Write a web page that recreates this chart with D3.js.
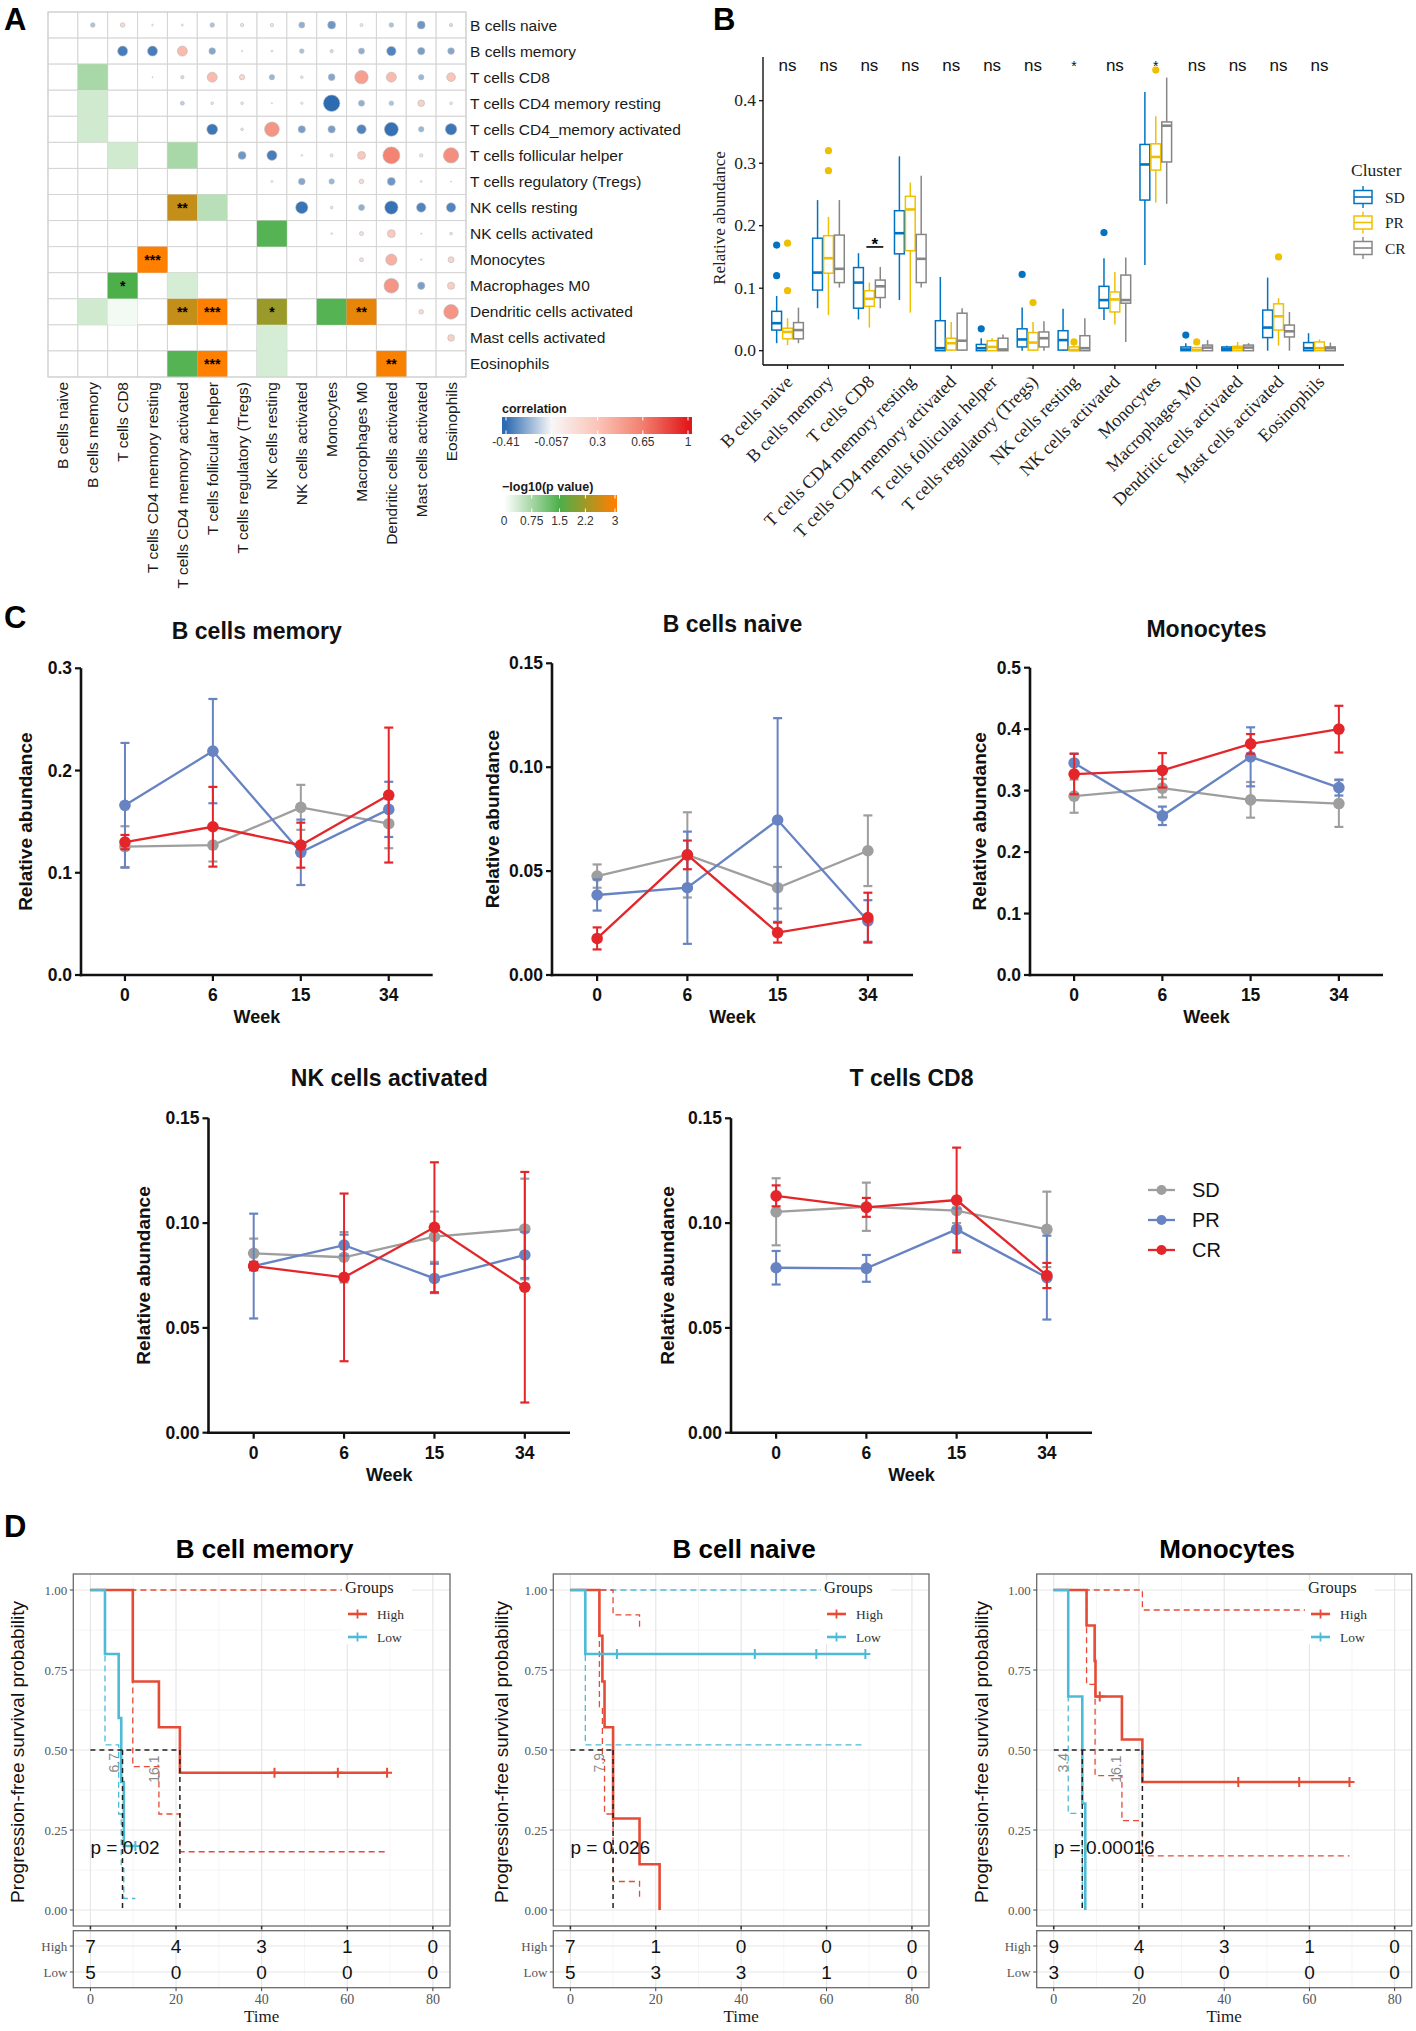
<!DOCTYPE html>
<html><head><meta charset="utf-8">
<script src="https://cdn.jsdelivr.net/npm/d3@7"></script>
<style>
body{margin:0;background:#fff}
svg{display:block;font-family:"Liberation Sans",Arial,sans-serif}
</style>
</head><body>
<svg id="fig" width="1416" height="2031"></svg>
<script>
// ===================== DATA =====================
const rowLabels = ["B cells naive","B cells memory","T cells CD8","T cells CD4 memory resting","T cells CD4_memory activated","T cells follicular helper","T cells regulatory (Tregs)","NK cells resting","NK cells activated","Monocytes","Macrophages M0","Dendritic cells activated","Mast cells activated","Eosinophils"];
const colLabels = ["B cells naive","B cells memory","T cells CD8","T cells CD4 memory resting","T cells CD4 memory activated","T cells follicular helper","T cells regulatory (Tregs)","NK cells resting","NK cells activated","Monocytes","Macrophages M0","Dendritic cells activated","Mast cells activated","Eosinophils"];

// Panel A: upper triangle correlations (row i, columns i+1..13)
const corrUpper = [
  [-0.19,0.14,-0.035,-0.05,-0.19,0.09,0.09,-0.24,-0.30,0.08,-0.19,-0.30,-0.12],
  [-0.367,-0.367,0.35,-0.26,-0.018,-0.05,-0.19,-0.12,-0.24,-0.346,-0.28,-0.26],
  [-0.005,-0.12,0.35,0.17,-0.22,0.065,-0.26,0.485,0.35,-0.22,0.30],
  [-0.16,-0.09,-0.09,-0.005,-0.07,-0.41,-0.24,-0.19,0.22,-0.09],
  [-0.382,-0.09,0.54,-0.28,-0.28,-0.346,-0.397,-0.22,-0.385],
  [-0.30,-0.367,-0.035,0.08,0.27,0.63,0.09,0.57],
  [-0.05,-0.26,-0.22,0.14,-0.30,-0.05,-0.005],
  [-0.389,-0.09,-0.24,-0.394,-0.346,-0.346],
  [-0.035,0.117,0.27,-0.018,-0.09],
  [0.117,0.40,-0.018,0.195],
  [0.54,-0.28,0.24],
  [0.14,0.54],
  [0.22],
  []
];
// Panel A: lower triangle -log10(p) [row, col, value]
const logPLower = [[2,1,0.73],[3,1,0.4],[4,1,0.4],[5,2,0.4],[5,4,0.73],[7,4,2.5],[7,5,0.6],[8,7,1.42],[9,3,3.0],[10,2,1.5],[10,4,0.35],[11,1,0.4],[11,2,0.1],[11,4,2.5],[11,5,3.0],[11,7,2.15],[11,9,1.42],[11,10,2.8],[12,7,0.35],[13,4,1.42],[13,5,3.0],[13,7,0.35],[13,11,2.95]];
const pStars = [[7,4,"**"],[9,3,"***"],[10,2,"*"],[11,4,"**"],[11,5,"***"],[11,7,"*"],[11,10,"**"],[13,5,"***"],[13,11,"**"]];
const corrTicks = [-0.41,-0.057,0.3,0.65,1];
const corrTickLabels = ["-0.41","-0.057","0.3","0.65","1"];
const pTicks = [0,0.75,1.5,2.2,3];
const pTickLabels = ["0","0.75","1.5","2.2","3"];

// Panel B: box stats [lower whisker, Q1, median, Q3, upper whisker]
const clusters = ["SD","PR","CR"];
const boxSD = [[0.012,0.033,0.044,0.063,0.0875],[0.068,0.097,0.125,0.18,0.241],[0.05,0.068,0.109,0.133,0.156],[0.081,0.155,0.188,0.224,0.311],[0,0,0.004,0.048,0.118],[0,0,0.004,0.01,0.02],[0,0.006,0.018,0.035,0.069],[0,0.001,0.017,0.032,0.067],[0.049,0.068,0.081,0.103,0.148],[0.137,0.241,0.298,0.33,0.414],[0,0,0.002,0.006,0.012],[0,0,0.003,0.006,0.008],[0,0.021,0.037,0.065,0.117],[0,0,0.004,0.013,0.028]];
const boxPR = [[0.009,0.019,0.03,0.036,0.052],[0.057,0.124,0.148,0.184,0.214],[0.037,0.071,0.083,0.096,0.109],[0.061,0.16,0.226,0.247,0.269],[0,0.001,0.012,0.02,0.046],[0,0,0.006,0.016,0.02],[0,0.001,0.013,0.029,0.046],[0,0,0.001,0.006,0.009],[0.042,0.062,0.082,0.094,0.126],[0.237,0.289,0.31,0.331,0.375],[0,0,0.001,0.005,0.006],[0,0,0.004,0.007,0.014],[0.008,0.033,0.055,0.075,0.084],[0,0,0.004,0.014,0.018]];
const boxCR = [[0.012,0.019,0.033,0.045,0.069],[0.101,0.109,0.131,0.185,0.241],[0.068,0.085,0.103,0.113,0.134],[0.101,0.109,0.147,0.186,0.28],[0,0.001,0.016,0.06,0.068],[0,0,0.002,0.02,0.026],[0,0.006,0.02,0.03,0.047],[0,0,0.004,0.024,0.052],[0.014,0.076,0.081,0.121,0.149],[0.235,0.302,0.36,0.366,0.437],[0,0,0.005,0.009,0.017],[0,0,0.005,0.009,0.012],[0,0.022,0.031,0.041,0.062],[0,0,0.004,0.006,0.013]];
const outSD = [[0,0.169],[0,0.12],[5,0.035],[6,0.122],[8,0.189],[10,0.025]];
const outPR = [[0,0.172],[0,0.096],[1,0.32],[1,0.288],[6,0.077],[7,0.014],[9,0.449],[10,0.014],[12,0.15]];
const outCR = [];
const bSig = ["ns","ns","ns","ns","ns","ns","ns","*","ns","*","ns","ns","ns","ns"];
const bTicks = [0,0.1,0.2,0.3,0.4];

// Panel C: means and error (order SD, PR, CR)
const weeks = ["0","6","15","34"];
const groupsC = ["SD","PR","CR"];
const bMemMean = [[0.1255,0.127,0.164,0.148],[0.166,0.219,0.12,0.162],[0.130,0.145,0.127,0.176]];
const bMemErr  = [[0.02,0.016,0.022,0.024],[0.061,0.051,0.032,0.027],[0.007,0.039,0.022,0.066]];
const bNaiveMean = [[0.0476,0.0578,0.042,0.0598],[0.0385,0.042,0.0746,0.026],[0.0176,0.0578,0.0204,0.0276]];
const bNaiveErr  = [[0.0056,0.0205,0.01,0.017],[0.0075,0.027,0.049,0.01],[0.0053,0.0069,0.0048,0.012]];
const monoMean = [[0.291,0.304,0.285,0.279],[0.345,0.259,0.355,0.305],[0.327,0.333,0.376,0.4]];
const monoErr  = [[0.027,0.015,0.029,0.038],[0.015,0.015,0.048,0.013],[0.033,0.028,0.016,0.038]];
const nkActMean = [[0.0856,0.0837,0.0935,0.0972],[0.0795,0.0895,0.0736,0.0848],[0.0795,0.0741,0.098,0.0694]];
const nkActErr  = [[0.007,0.012,0.012,0.024],[0.025,0.005,0.007,0.011],[0.002,0.04,0.031,0.055]];
const tcd8Mean = [[0.1054,0.1078,0.106,0.097],[0.0787,0.0784,0.097,0.074],[0.113,0.1075,0.111,0.075]];
const tcd8Err  = [[0.016,0.0115,0.006,0.018],[0.008,0.0064,0.01,0.02],[0.005,0.0045,0.025,0.006]];
const ticks03 = [0,0.1,0.2,0.3];
const ticks015 = [0,0.05,0.10,0.15];
const ticks05 = [0,0.1,0.2,0.3,0.4,0.5];

// Panel D: Kaplan-Meier step points [time, survival]
const kmTicks = [0,20,40,60,80];
const memHigh = [[0,1],[9.9,0.714],[16,0.571],[20.9,0.429],[69.3,0.429]];
const memHighUp = [[0,1],[69.3,1]];
const memHighLo = [[0,1],[9.9,0.448],[16,0.30],[20.9,0.182],[69.3,0.182]];
const memHighCens = [43,57.8,69.3];
const memLow = [[0,1],[3.4,0.8],[6.6,0.6],[7.2,0.4],[7.8,0.2],[10.5,0.2]];
const memLowUp = [[0,1],[10.5,1]];
const memLowLo = [[0,1],[3.4,0.516],[6.6,0.3],[7.2,0.13],[7.8,0.036],[10.5,0.036]];
const memLowCens = [10.5];
const memMedTimes = [7.5,20.9];
const memMedLabels = [["6.7",5.4,0.46],["16.1",14.8,0.44]];
const memRiskHigh = [7,4,3,1,0], memRiskLow = [5,0,0,0,0];

const naiHigh = [[0,1],[6.8,0.857],[7.5,0.714],[8.0,0.571],[10,0.286],[16.2,0.143],[20.9,0]];
const naiHighUp = [[0,1],[10,0.922],[16.2,0.88]];
const naiHighLo = [[0,1],[6.8,0.635],[7.5,0.47],[8.0,0.30],[10,0.089],[16.2,0.036]];
const naiHighCens = [];
const naiLow = [[0,1],[3.5,0.8],[69.1,0.8]];
const naiLowUp = [[0,1],[69.1,1]];
const naiLowLo = [[0,1],[3.5,0.516],[69.1,0.516]];
const naiLowCens = [10.9,43.2,57.6,69.1];
const naiMedTimes = [10];
const naiMedLabels = [["7.9",6.6,0.46]];
const naiRiskHigh = [7,1,0,0,0], naiRiskLow = [5,3,3,1,0];

const monHigh = [[0,1],[7.7,0.889],[9.6,0.778],[9.8,0.667],[16,0.533],[20.8,0.4],[69.4,0.4]];
const monHighUp = [[0,1],[20.8,0.9375],[69.4,0.9375]];
const monHighLo = [[0,1],[7.7,0.705],[9.7,0.42],[16,0.279],[20.8,0.169],[69.4,0.169]];
const monHighCens = [10.8,43.3,57.6,69.4];
const monLow = [[0,1],[3.4,0.667],[6.7,0.333],[7.4,0]];
const monLowUp = [[0,1],[7.4,1]];
const monLowLo = [[0,1],[3.4,0.302],[6.7,0]];
const monLowCens = [];
const monMedTimes = [6.7,20.8];
const monMedLabels = [["3.4",2.1,0.46],["16.1",14.7,0.44]];
const monRiskHigh = [9,4,3,1,0], monRiskLow = [3,0,0,0,0];

// ===================== DRAW =====================
const SANS = '"Liberation Sans", Arial, sans-serif';
const SERIF = '"Liberation Serif", "Times New Roman", serif';
const svg = d3.select("#fig");
const defs = svg.append("defs");

function txt(g, x, y, s, size, opts = {}) {
  const t = g.append("text").text(s)
    .style("font-size", size + "px").attr("fill", opts.fill || "#1a1a1a")
    .attr("text-anchor", opts.anchor || "start")
    .style("font-family", opts.family || SANS);
  if (opts.weight) t.style("font-weight", opts.weight);
  if (opts.transform) t.attr("transform", opts.transform);
  else t.attr("x", x).attr("y", y);
  return t;
}

// Panel letters
[["A",4,30],["B",713,30],["C",4,628],["D",4,1537]].forEach(d => txt(svg, d[1], d[2], d[0], 31, {weight:"bold", fill:"#000"}));

// ---------- Panel A ----------
const gA = svg.append("g");
const xA = d3.scaleBand().domain(colLabels).range([48,466]);
const yA = d3.scaleBand().domain(rowLabels).range([12,377]);
const corrColor = d3.scaleLinear().domain(corrTicks).range(["#2e6cb2","#f7f7f7","#fbc4b8","#f27f6e","#e2191c"]).clamp(true);
const corrSize = d3.scaleLinear().domain([-0.41,-0.38,-0.2,0,0.35,0.65]).range([8.3,5.2,2.4,0.5,5,8.7]).clamp(true);
const pColor = d3.scaleLinear().domain([0,1.5,3]).range(["#ffffff","#4daf4a","#ff7f00"]).clamp(true);
const bw = xA.bandwidth(), bh = yA.bandwidth();

rowLabels.forEach((r, i) => colLabels.forEach((c, j) => {
  gA.append("rect").attr("x", xA(c)).attr("y", yA(r)).attr("width", bw).attr("height", bh)
    .attr("fill", "#fff").attr("stroke", "#d4d4d4").attr("stroke-width", 1);
}));
logPLower.forEach(([i, j, v]) => {
  gA.append("rect").attr("x", xA(colLabels[j])).attr("y", yA(rowLabels[i])).attr("width", bw).attr("height", bh)
    .attr("fill", pColor(v));
});
pStars.forEach(([i, j, s]) => {
  txt(gA, xA(colLabels[j]) + bw/2, yA(rowLabels[i]) + bh/2 + 5, s, 14, {anchor:"middle", fill:"#000", weight:"bold"});
});
corrUpper.forEach((row, i) => row.forEach((v, k) => {
  const j = i + 1 + k;
  gA.append("circle").attr("cx", xA(colLabels[j]) + bw/2).attr("cy", yA(rowLabels[i]) + bh/2)
    .attr("r", corrSize(v)).attr("fill", corrColor(v)).attr("stroke", "#b8b8b8").attr("stroke-width", 0.6);
}));
gA.append("rect").attr("x",48).attr("y",12).attr("width",418).attr("height",365).attr("fill","none").attr("stroke","#cfcfcf");
rowLabels.forEach(r => txt(gA, 470, yA(r) + bh/2 + 5.5, r, 15.5, {fill:"#1a1a1a"}));
colLabels.forEach(c => txt(gA, 0, 0, c, 15.5, {anchor:"end", transform:`translate(${xA(c)+bw/2+5.5},382) rotate(-90)`}));

// correlation legend
txt(gA, 502, 413, "correlation", 12.5, {weight:"bold"});
const cLeg = d3.scaleLinear().domain([-0.41,1]).range([506,688]);
const gc = defs.append("linearGradient").attr("id","gradCorr");
d3.range(0,1.0001,0.02).forEach(t => gc.append("stop").attr("offset", t).attr("stop-color", corrColor(cLeg.invert(502 + t*190))));
gA.append("rect").attr("x",502).attr("y",417).attr("width",190).attr("height",17).attr("fill","url(#gradCorr)");
corrTicks.forEach((v, i) => {
  gA.append("line").attr("x1",cLeg(v)).attr("x2",cLeg(v)).attr("y1",417).attr("y2",420.5).attr("stroke","#fff").attr("stroke-width",1);
  gA.append("line").attr("x1",cLeg(v)).attr("x2",cLeg(v)).attr("y1",430.5).attr("y2",434).attr("stroke","#fff").attr("stroke-width",1);
  txt(gA, cLeg(v), 446, corrTickLabels[i], 12, {anchor:"middle", fill:"#333"});
});
// p legend
txt(gA, 502, 491, "\u2212log10(p value)", 12.5, {weight:"bold"});
const pLeg = d3.scaleLinear().domain([0,3]).range([504,615]);
const gp = defs.append("linearGradient").attr("id","gradP");
d3.range(0,1.0001,0.02).forEach(t => gp.append("stop").attr("offset", t).attr("stop-color", pColor(pLeg.invert(502 + t*115))));
gA.append("rect").attr("x",502).attr("y",495).attr("width",115).attr("height",17).attr("fill","url(#gradP)");
pTicks.forEach((v, i) => {
  gA.append("line").attr("x1",pLeg(v)).attr("x2",pLeg(v)).attr("y1",495).attr("y2",498.5).attr("stroke","#fff");
  gA.append("line").attr("x1",pLeg(v)).attr("x2",pLeg(v)).attr("y1",508.5).attr("y2",512).attr("stroke","#fff");
  txt(gA, pLeg(v), 525, pTickLabels[i], 12, {anchor:"middle", fill:"#333"});
});

// ---------- Panel B ----------
const gB = svg.append("g");
const clusterColors = ["#0073C2","#EFC000","#868686"];
const xB = d3.scalePoint().domain(colLabels).range([763,1344]).padding(0.6);
const yB = d3.scaleLinear().domain([0,0.4]).range([350.7,100.7]);
const dodge = d3.scaleBand().domain(clusters).range([-16.35,16.35]);
const boxW = dodge.bandwidth()*0.9;
[boxSD, boxPR, boxCR].forEach((data, gi) => {
  const col = clusterColors[gi];
  const off = dodge(clusters[gi]) + dodge.bandwidth()/2;
  data.forEach((s, ci) => {
    const cx = xB(colLabels[ci]) + off;
    gB.append("line").attr("x1",cx).attr("x2",cx).attr("y1",yB(s[4])).attr("y2",yB(s[3])).attr("stroke",col).attr("stroke-width",1.5);
    gB.append("line").attr("x1",cx).attr("x2",cx).attr("y1",yB(s[1])).attr("y2",yB(s[0])).attr("stroke",col).attr("stroke-width",1.5);
    gB.append("rect").attr("x",cx-boxW/2).attr("y",yB(s[3])).attr("width",boxW).attr("height",Math.max(yB(s[1])-yB(s[3]),0.8))
      .attr("fill","#fff").attr("stroke",col).attr("stroke-width",1.5);
    gB.append("line").attr("x1",cx-boxW/2).attr("x2",cx+boxW/2).attr("y1",yB(s[2])).attr("y2",yB(s[2])).attr("stroke",col).attr("stroke-width",2.6);
  });
});
[outSD, outPR, outCR].forEach((data, gi) => {
  const off = dodge(clusters[gi]) + dodge.bandwidth()/2;
  data.forEach(([ci, v]) => gB.append("circle").attr("cx", xB(colLabels[ci]) + off).attr("cy", yB(v)).attr("r",3.6).attr("fill", clusterColors[gi]));
});
gB.append("line").attr("x1",763).attr("x2",763).attr("y1",57).attr("y2",365).attr("stroke","#000").attr("stroke-width",1.3);
gB.append("line").attr("x1",763).attr("x2",1344).attr("y1",365).attr("y2",365).attr("stroke","#000").attr("stroke-width",1.3);
bTicks.forEach(v => {
  gB.append("line").attr("x1",759).attr("x2",763).attr("y1",yB(v)).attr("y2",yB(v)).attr("stroke","#000").attr("stroke-width",1.2);
  txt(gB, 756, yB(v) + 5.5, d3.format(".1f")(v), 17.5, {anchor:"end", family:SERIF, fill:"#222"});
});
colLabels.forEach((c, i) => {
  gB.append("line").attr("x1",xB(c)).attr("x2",xB(c)).attr("y1",365).attr("y2",369).attr("stroke","#000").attr("stroke-width",1.2);
  txt(gB, 0, 0, c, 18, {anchor:"end", family:SERIF, fill:"#222", transform:`translate(${xB(c)+6},383) rotate(-45)`});
  if (bSig[i] === "ns") txt(gB, xB(c), 71, "ns", 17, {anchor:"middle", fill:"#111"});
  else txt(gB, xB(c), 71, "*", 14, {anchor:"middle", fill:"#111"});
});
{
  const cx = xB(colLabels[2]);
  const x1 = cx + dodge("PR") + dodge.bandwidth()/2, x2 = cx + dodge("CR") + dodge.bandwidth()/2;
  gB.append("line").attr("x1",x1-3).attr("x2",x2+3).attr("y1",yB(0.166)).attr("y2",yB(0.166)).attr("stroke","#000").attr("stroke-width",1.6);
  txt(gB, (x1+x2)/2, yB(0.166) + 3, "*", 17, {anchor:"middle", fill:"#000", weight:"bold"});
}
txt(gB, 0, 0, "Relative abundance", 17, {anchor:"middle", family:SERIF, fill:"#222", transform:"translate(725,218) rotate(-90)"});
txt(gB, 1351, 176, "Cluster", 17.5, {family:SERIF, fill:"#222"});
clusters.forEach((c, i) => {
  const cy = 197 + i*25.5, col = clusterColors[i];
  gB.append("line").attr("x1",1363).attr("x2",1363).attr("y1",cy-11).attr("y2",cy+11).attr("stroke",col).attr("stroke-width",1.4);
  gB.append("rect").attr("x",1354).attr("y",cy-6.5).attr("width",18).attr("height",13).attr("fill","#fff").attr("stroke",col).attr("stroke-width",1.5);
  gB.append("line").attr("x1",1354).attr("x2",1372).attr("y1",cy).attr("y2",cy).attr("stroke",col).attr("stroke-width",1.6);
  txt(gB, 1385, cy + 5.5, c, 15.5, {family:SERIF, fill:"#222"});
});

// ---------- Panel C ----------
const gC = svg.append("g");
const lineColors = ["#9e9e9e","#6783c2","#e4262b"];
function linePanel(cfg) {
  const g = gC.append("g");
  const x = d3.scalePoint().domain(weeks).range([cfg.x0, cfg.x1]).padding(0.5);
  const y = d3.scaleLinear().domain([0, cfg.max]).range([cfg.yBot, cfg.yTop]);
  g.append("line").attr("x1",cfg.x0).attr("x2",cfg.x0).attr("y1",cfg.yTop).attr("y2",cfg.yBot+1.3).attr("stroke","#111").attr("stroke-width",2.6);
  g.append("line").attr("x1",cfg.x0-1.3).attr("x2",cfg.x1).attr("y1",cfg.yBot).attr("y2",cfg.yBot).attr("stroke","#111").attr("stroke-width",2.6);
  cfg.ticks.forEach(v => {
    g.append("line").attr("x1",cfg.x0-6).attr("x2",cfg.x0).attr("y1",y(v)).attr("y2",y(v)).attr("stroke","#111").attr("stroke-width",2.2);
    txt(g, cfg.x0-9, y(v)+6, d3.format(cfg.fmt)(v), 17.5, {anchor:"end", weight:"bold", fill:"#111"});
  });
  weeks.forEach(w => {
    g.append("line").attr("x1",x(w)).attr("x2",x(w)).attr("y1",cfg.yBot).attr("y2",cfg.yBot+6).attr("stroke","#111").attr("stroke-width",2.2);
    txt(g, x(w), cfg.yBot+26, w, 17.5, {anchor:"middle", weight:"bold", fill:"#111"});
  });
  txt(g, (cfg.x0+cfg.x1)/2, cfg.yBot+48, "Week", 18, {anchor:"middle", weight:"bold", fill:"#111"});
  txt(g, 0, 0, "Relative abundance", 19, {anchor:"middle", weight:"bold", fill:"#111", transform:`translate(${cfg.ytx},${(cfg.yTop+cfg.yBot)/2}) rotate(-90)`});
  txt(g, (cfg.x0+cfg.x1)/2, cfg.titleY, cfg.title, 23, {anchor:"middle", weight:"bold", fill:"#111"});
  const ln = d3.line().x((d,i) => x(weeks[i])).y(d => y(d));
  cfg.means.forEach((m, gi) => {
    const col = lineColors[gi];
    m.forEach((v, i) => {
      const e = cfg.errs[gi][i], xx = x(weeks[i]);
      g.append("line").attr("x1",xx).attr("x2",xx).attr("y1",y(v+e)).attr("y2",y(v-e)).attr("stroke",col).attr("stroke-width",2);
      [v+e, v-e].forEach(c => g.append("line").attr("x1",xx-4.5).attr("x2",xx+4.5).attr("y1",y(c)).attr("y2",y(c)).attr("stroke",col).attr("stroke-width",2.2));
    });
    g.append("path").attr("d", ln(m)).attr("fill","none").attr("stroke",col).attr("stroke-width",2.3);
    m.forEach((v, i) => g.append("circle").attr("cx",x(weeks[i])).attr("cy",y(v)).attr("r",5.8).attr("fill",col));
  });
}
linePanel({title:"B cells memory", x0:81, x1:432.7, yTop:668.3, yBot:975, max:0.3, ticks:ticks03, fmt:".1f", means:bMemMean, errs:bMemErr, titleY:639, ytx:32});
linePanel({title:"B cells naive", x0:552, x1:913, yTop:663.3, yBot:975, max:0.15, ticks:ticks015, fmt:".2f", means:bNaiveMean, errs:bNaiveErr, titleY:632, ytx:499});
linePanel({title:"Monocytes", x0:1030, x1:1383, yTop:667.7, yBot:975, max:0.5, ticks:ticks05, fmt:".1f", means:monoMean, errs:monoErr, titleY:637, ytx:986});
linePanel({title:"NK cells activated", x0:208.5, x1:570, yTop:1118.3, yBot:1432.7, max:0.15, ticks:ticks015, fmt:".2f", means:nkActMean, errs:nkActErr, titleY:1086, ytx:150});
linePanel({title:"T cells CD8", x0:731, x1:1092, yTop:1118.3, yBot:1432.7, max:0.15, ticks:ticks015, fmt:".2f", means:tcd8Mean, errs:tcd8Err, titleY:1086, ytx:674});
groupsC.forEach((gname, i) => {
  const cy = 1190 + i*30;
  gC.append("line").attr("x1",1148).attr("x2",1175).attr("y1",cy).attr("y2",cy).attr("stroke",lineColors[i]).attr("stroke-width",2.3);
  gC.append("circle").attr("cx",1161.5).attr("cy",cy).attr("r",5).attr("fill",lineColors[i]);
  txt(gC, 1192, cy+7, gname, 20, {fill:"#111"});
});

// ---------- Panel D ----------
const gD = svg.append("g");
const kmHighCol = "#E64B35", kmLowCol = "#4DBBD5";
function survAt(curve, t) { let s = curve[0][1]; curve.forEach(p => { if (p[0] <= t) s = p[1]; }); return s; }
function kmPanel(cfg) {
  const g = gD.append("g");
  const top = 1574, bot = 1926, rTop = 1930.7, rBot = 1987.7;
  const x = d3.scaleLinear().domain([-4,84]).range([cfg.left, cfg.right]);
  const y = d3.scaleLinear().domain([-0.05,1.05]).range([bot, top]);
  g.append("rect").attr("x",cfg.left).attr("y",top).attr("width",cfg.right-cfg.left).attr("height",bot-top).attr("fill","#fff");
  [10,30,50,70].forEach(t => g.append("line").attr("x1",x(t)).attr("x2",x(t)).attr("y1",top).attr("y2",bot).attr("stroke","#f2f2f2").attr("stroke-width",0.8));
  [0.125,0.375,0.625,0.875].forEach(v => g.append("line").attr("x1",cfg.left).attr("x2",cfg.right).attr("y1",y(v)).attr("y2",y(v)).attr("stroke","#f2f2f2").attr("stroke-width",0.8));
  kmTicks.forEach(t => g.append("line").attr("x1",x(t)).attr("x2",x(t)).attr("y1",top).attr("y2",bot).attr("stroke","#e6e6e6").attr("stroke-width",1.2));
  [0,0.25,0.5,0.75,1].forEach(v => g.append("line").attr("x1",cfg.left).attr("x2",cfg.right).attr("y1",y(v)).attr("y2",y(v)).attr("stroke","#e6e6e6").attr("stroke-width",1.2));
  [10,30,50,70].forEach(t => g.append("line").attr("x1",x(t)).attr("x2",x(t)).attr("y1",rTop).attr("y2",rBot).attr("stroke","#f2f2f2").attr("stroke-width",0.8));
  kmTicks.forEach(t => g.append("line").attr("x1",x(t)).attr("x2",x(t)).attr("y1",rTop).attr("y2",rBot).attr("stroke","#e6e6e6").attr("stroke-width",1.2));
  [1946,1972].forEach(yy => g.append("line").attr("x1",cfg.left).attr("x2",cfg.right).attr("y1",yy).attr("y2",yy).attr("stroke","#e6e6e6").attr("stroke-width",1.2));

  const step = d3.line().x(d => x(d[0])).y(d => y(d[1])).curve(d3.curveStepAfter);
  const dash = (data, col) => g.append("path").attr("d", step(data)).attr("fill","none").attr("stroke",col).attr("stroke-width",1.3).attr("stroke-dasharray","6,4");
  dash(cfg.lowUp, kmLowCol); dash(cfg.lowLo, kmLowCol);
  dash(cfg.highUp, kmHighCol); dash(cfg.highLo, kmHighCol);
  g.append("path").attr("d", step(cfg.high)).attr("fill","none").attr("stroke",kmHighCol).attr("stroke-width",2.6);
  g.append("path").attr("d", step(cfg.low)).attr("fill","none").attr("stroke",kmLowCol).attr("stroke-width",2.6);
  const cross = (cx, cy, col) => g.append("path").attr("d",`M${cx-5},${cy}H${cx+5}M${cx},${cy-5}V${cy+5}`).attr("stroke",col).attr("stroke-width",2);
  cfg.highCens.forEach(t => cross(x(t), y(survAt(cfg.high, t)), kmHighCol));
  cfg.lowCens.forEach(t => cross(x(t), y(survAt(cfg.low, t)), kmLowCol));
  const mEnd = d3.max(cfg.medTimes);
  g.append("line").attr("x1",x(0)).attr("x2",x(mEnd)).attr("y1",y(0.5)).attr("y2",y(0.5)).attr("stroke","#222").attr("stroke-width",1.5).attr("stroke-dasharray","5,4");
  cfg.medTimes.forEach(t => g.append("line").attr("x1",x(t)).attr("x2",x(t)).attr("y1",y(0.5)).attr("y2",y(0)).attr("stroke","#222").attr("stroke-width",1.5).attr("stroke-dasharray","5,4"));
  cfg.medLabels.forEach(([s, t, v]) => txt(g, 0, 0, s, 14, {anchor:"middle", fill:"#8a8a8a", transform:`translate(${x(t)+5},${y(v)}) rotate(-90)`}));
  g.append("rect").attr("x",cfg.left).attr("y",top).attr("width",cfg.right-cfg.left).attr("height",bot-top).attr("fill","none").attr("stroke","#6a6a6a").attr("stroke-width",1.3);
  g.append("rect").attr("x",cfg.left).attr("y",rTop).attr("width",cfg.right-cfg.left).attr("height",rBot-rTop).attr("fill","none").attr("stroke","#6a6a6a").attr("stroke-width",1.3);
  [0,0.25,0.5,0.75,1].forEach(v => {
    g.append("line").attr("x1",cfg.left-3.5).attr("x2",cfg.left).attr("y1",y(v)).attr("y2",y(v)).attr("stroke","#444").attr("stroke-width",1);
    txt(g, cfg.left-6, y(v)+4.5, d3.format(".2f")(v), 13, {anchor:"end", family:SERIF, fill:"#555"});
  });
  kmTicks.forEach((t, i) => {
    g.append("line").attr("x1",x(t)).attr("x2",x(t)).attr("y1",bot).attr("y2",bot+3.5).attr("stroke","#333").attr("stroke-width",1.6);
    g.append("line").attr("x1",x(t)).attr("x2",x(t)).attr("y1",rBot).attr("y2",rBot+3.5).attr("stroke","#444").attr("stroke-width",1);
    txt(g, x(t), 2004, String(t), 14, {anchor:"middle", family:SERIF, fill:"#555"});
    txt(g, x(t), 1953, String(cfg.riskHigh[i]), 19, {anchor:"middle", fill:"#111"});
    txt(g, x(t), 1979, String(cfg.riskLow[i]), 19, {anchor:"middle", fill:"#111"});
  });
  [["High",1946],["Low",1972]].forEach(([s, yy]) => {
    g.append("line").attr("x1",cfg.left-3.5).attr("x2",cfg.left).attr("y1",yy).attr("y2",yy).attr("stroke","#444").attr("stroke-width",1);
    txt(g, cfg.left-6, yy+4.5, s, 13, {anchor:"end", family:SERIF, fill:"#555"});
  });
  txt(g, x(40), 2022, "Time", 17, {anchor:"middle", family:SERIF, fill:"#1a1a1a"});
  txt(g, 0, 0, "Progression-free survival probability", 19, {anchor:"middle", fill:"#111", transform:`translate(${cfg.ytx},1752) rotate(-90)`});
  txt(g, (cfg.left+cfg.right)/2 + 3, 1558, cfg.title, 26, {anchor:"middle", weight:"bold", fill:"#000"});
  txt(g, x(0), y(0.197)+7, cfg.pText, 19, {fill:"#111"});
  const lx = cfg.legendX;
  g.append("rect").attr("x",lx-3).attr("y",1580).attr("width",70).attr("height",64).attr("fill","#fff");
  txt(g, lx, 1593, "Groups", 16.5, {family:SERIF, fill:"#222"});
  [["High",kmHighCol,1614],["Low",kmLowCol,1637]].forEach(([s, col, yy]) => {
    g.append("line").attr("x1",lx+3).attr("x2",lx+22).attr("y1",yy).attr("y2",yy).attr("stroke",col).attr("stroke-width",2.6);
    g.append("path").attr("d",`M${lx+8},${yy}H${lx+17}M${lx+12.5},${yy-4.5}V${yy+4.5}`).attr("stroke",col).attr("stroke-width",1.8);
    txt(g, lx+32, yy+4.5, s, 13.5, {family:SERIF, fill:"#333"});
  });
}
kmPanel({title:"B cell memory", left:73.3, right:450, high:memHigh, highUp:memHighUp, highLo:memHighLo, highCens:memHighCens,
  low:memLow, lowUp:memLowUp, lowLo:memLowLo, lowCens:memLowCens, medTimes:memMedTimes, medLabels:memMedLabels,
  pText:"p = 0.02", riskHigh:memRiskHigh, riskLow:memRiskLow, legendX:345, ytx:24});
kmPanel({title:"B cell naive", left:553.3, right:929, high:naiHigh, highUp:naiHighUp, highLo:naiHighLo, highCens:naiHighCens,
  low:naiLow, lowUp:naiLowUp, lowLo:naiLowLo, lowCens:naiLowCens, medTimes:naiMedTimes, medLabels:naiMedLabels,
  pText:"p = 0.026", riskHigh:naiRiskHigh, riskLow:naiRiskLow, legendX:824, ytx:508});
kmPanel({title:"Monocytes", left:1036.7, right:1411.7, high:monHigh, highUp:monHighUp, highLo:monHighLo, highCens:monHighCens,
  low:monLow, lowUp:monLowUp, lowLo:monLowLo, lowCens:monLowCens, medTimes:monMedTimes, medLabels:monMedLabels,
  pText:"p = 0.00016", riskHigh:monRiskHigh, riskLow:monRiskLow, legendX:1308, ytx:988});
</script>
</body></html>
